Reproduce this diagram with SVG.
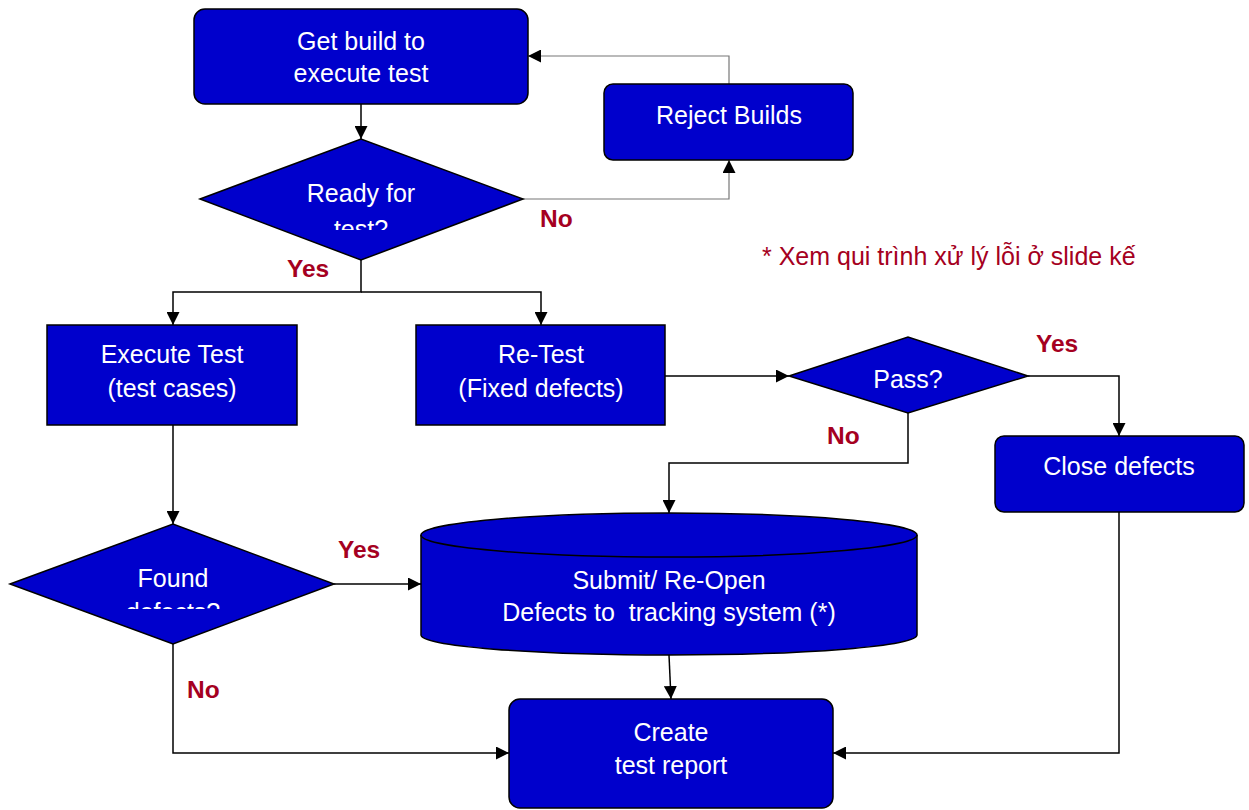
<svg xmlns="http://www.w3.org/2000/svg" width="1249" height="810" viewBox="0 0 1249 810">
<defs>
<style>
.n{fill:#0000CC;stroke:#000;stroke-width:1.5}
.t{fill:#fff;font-family:"Liberation Sans",Arial,sans-serif;font-size:25px;text-anchor:middle}
.l{fill:#A50021;font-family:"Liberation Sans",Arial,sans-serif;font-size:24.5px;font-weight:bold}
.c{fill:none;stroke:#000;stroke-width:1.5}
.g{fill:none;stroke:#777;stroke-width:1.2}
</style>
<marker id="b" viewBox="0 0 10 10" refX="10" refY="5" markerWidth="13" markerHeight="13" markerUnits="userSpaceOnUse" orient="auto"><path d="M0,0L10,5L0,10z" fill="#000"/></marker>
<clipPath id="cr2"><rect x="0" y="0" width="1249" height="230"/></clipPath>
<clipPath id="cf"><rect x="0" y="0" width="1249" height="609"/></clipPath>
</defs>
<g id="connectors">
<path class="c" d="M361,104V139" marker-end="url(#b)"/>
<path class="g" d="M729,84V56H528" marker-end="url(#b)"/>
<path class="g" d="M523,199H729V160" marker-end="url(#b)"/>
<path class="c" d="M361,260V292H173V325" marker-end="url(#b)"/>
<path class="c" d="M361,292H541V325" marker-end="url(#b)"/>
<path class="c" d="M665,376H789" marker-end="url(#b)"/>
<path class="c" d="M1028,376H1119V436" marker-end="url(#b)"/>
<path class="c" d="M908,413V463H669V513" marker-end="url(#b)"/>
<path class="c" d="M173,425V524" marker-end="url(#b)"/>
<path class="c" d="M334,584H421" marker-end="url(#b)"/>
<path class="c" d="M173,644V753H509" marker-end="url(#b)"/>
<path class="c" d="M669,655L671,699" marker-end="url(#b)"/>
<path class="c" d="M1119,512V753H833" marker-end="url(#b)"/>
</g>
<g id="getbuild">
<rect class="n" x="194" y="9" width="334" height="95" rx="11"/>
<text class="t" x="361" y="50">Get build to</text>
<text class="t" x="361" y="82">execute test</text>
</g>
<g id="reject">
<rect class="n" x="604" y="84" width="249" height="76" rx="9"/>
<text class="t" x="729" y="124">Reject Builds</text>
</g>
<g id="ready">
<polygon class="n" points="200,199 361,139 523,199 361,260"/>
<text class="t" x="361" y="202">Ready for</text>
<text class="t" x="361" y="238" clip-path="url(#cr2)">test?</text>
</g>
<g id="execute">
<rect class="n" x="47" y="325" width="250" height="100"/>
<text class="t" x="172" y="363">Execute Test</text>
<text class="t" x="172" y="397">(test cases)</text>
</g>
<g id="retest">
<rect class="n" x="416" y="325" width="249" height="100"/>
<text class="t" x="541" y="363">Re-Test</text>
<text class="t" x="541" y="397">(Fixed defects)</text>
</g>
<g id="pass">
<polygon class="n" points="789,376 908,337 1028,376 908,413"/>
<text class="t" x="908" y="388">Pass?</text>
</g>
<g id="close">
<rect class="n" x="995" y="436" width="249" height="76" rx="9"/>
<text class="t" x="1119" y="475">Close defects</text>
</g>
<g id="found">
<polygon class="n" points="10,584 173,524 334,584 173,644"/>
<text class="t" x="173" y="587">Found</text>
<text class="t" x="173" y="621" clip-path="url(#cf)">defects?</text>
</g>
<g id="submit">
<path class="n" d="M421,535A248,22 0 0 1 917,535V635A248,20 0 0 1 421,635Z"/>
<path class="c" d="M421,535A248,22 0 0 0 917,535"/>
<text class="t" x="669" y="589">Submit/ Re-Open</text>
<text class="t" x="669" y="621" xml:space="preserve">Defects to  tracking system (*)</text>
</g>
<g id="create">
<rect class="n" x="509" y="699" width="324" height="109" rx="11"/>
<text class="t" x="671" y="741">Create</text>
<text class="t" x="671" y="774">test report</text>
</g>
<g id="labels">
<text class="l" x="287" y="277">Yes</text>
<text class="l" x="540" y="227">No</text>
<text class="l" x="1036" y="352">Yes</text>
<text class="l" x="827" y="444">No</text>
<text class="l" x="338" y="558">Yes</text>
<text class="l" x="187" y="698">No</text>
<text x="762" y="265" style="fill:#A50021;font-family:'Liberation Sans',Arial,sans-serif;font-size:25px">* Xem qui trình xử lý lỗi ở slide kế</text>
</g>
</svg>
